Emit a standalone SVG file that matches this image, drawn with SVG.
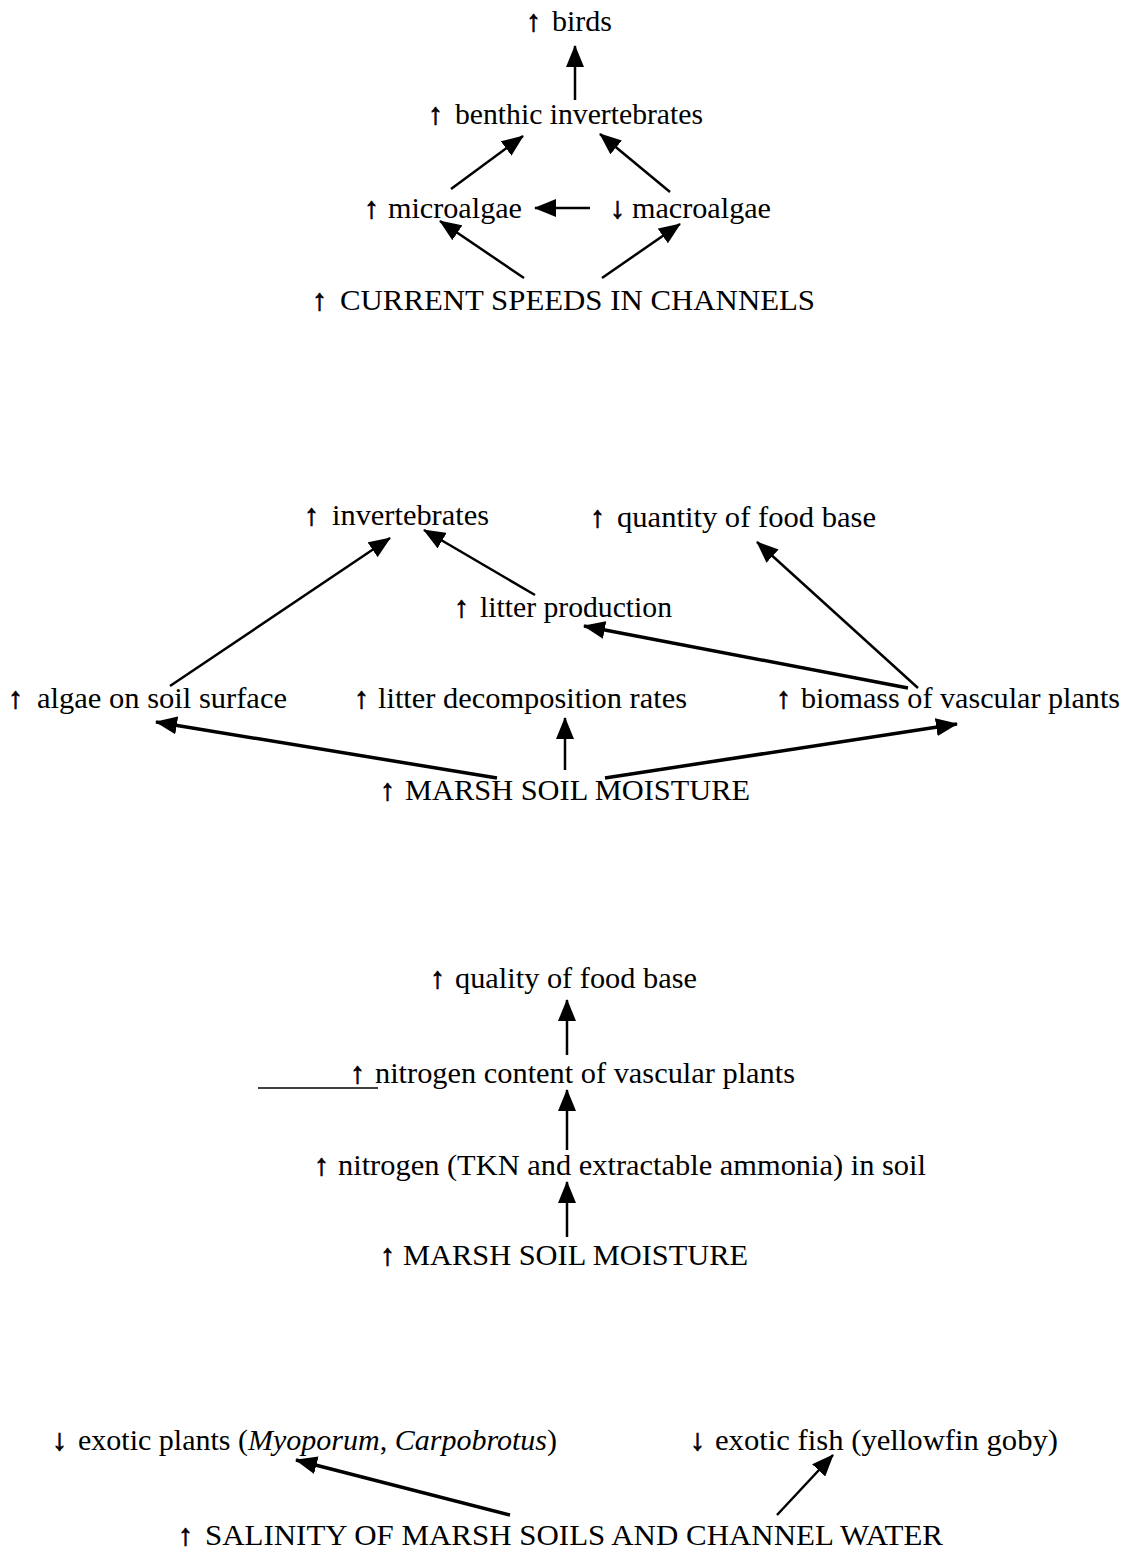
<svg xmlns="http://www.w3.org/2000/svg" width="1128" height="1553" viewBox="0 0 1128 1553">
<style>
text{font-family:"Liberation Serif","Times New Roman",serif;font-size:30px;fill:#000}
text.a{font-size:30px;stroke:#000;stroke-width:0.8}
.c line{stroke:#000;stroke-width:2.5;fill:none}
.c line.t{stroke-width:3.5}
.it{font-style:italic}
</style>
<defs>
<marker id="ah" viewBox="0 0 22 18" markerWidth="22" markerHeight="18" refX="21" refY="9" orient="auto" markerUnits="userSpaceOnUse">
<path d="M0,0 L22,9 L0,18 z" fill="#000"/>
</marker>
</defs>
<rect width="1128" height="1553" fill="#fff"/>
<g id="n-birds"><text class="a" x="526" y="31">↑</text><text x="552" y="31" textLength="60" lengthAdjust="spacingAndGlyphs">birds</text></g>
<g id="n-benthic"><text class="a" x="428" y="124">↑</text><text x="455" y="124" textLength="248" lengthAdjust="spacingAndGlyphs">benthic invertebrates</text></g>
<g id="n-microalgae"><text class="a" x="364" y="218">↑</text><text x="388" y="218" textLength="134" lengthAdjust="spacingAndGlyphs">microalgae</text></g>
<g id="n-macroalgae"><text class="a" x="610" y="218">↓</text><text x="632" y="218" textLength="139" lengthAdjust="spacingAndGlyphs">macroalgae</text></g>
<g id="n-current"><text class="a" x="312" y="310">↑</text><text x="340" y="310" textLength="475" lengthAdjust="spacingAndGlyphs">CURRENT SPEEDS IN CHANNELS</text></g>
<g id="n-invertebrates"><text class="a" x="304" y="525">↑</text><text x="332" y="525" textLength="157" lengthAdjust="spacingAndGlyphs">invertebrates</text></g>
<g id="n-quantity"><text class="a" x="590" y="527">↑</text><text x="617" y="527" textLength="259" lengthAdjust="spacingAndGlyphs">quantity of food base</text></g>
<g id="n-litterprod"><text class="a" x="454" y="617">↑</text><text x="480" y="617" textLength="192" lengthAdjust="spacingAndGlyphs">litter production</text></g>
<g id="n-algae"><text class="a" x="8" y="708">↑</text><text x="37" y="708" textLength="250" lengthAdjust="spacingAndGlyphs">algae on soil surface</text></g>
<g id="n-litterdec"><text class="a" x="354" y="708">↑</text><text x="378" y="708" textLength="309" lengthAdjust="spacingAndGlyphs">litter decomposition rates</text></g>
<g id="n-biomass"><text class="a" x="776" y="708">↑</text><text x="801" y="708" textLength="319" lengthAdjust="spacingAndGlyphs">biomass of vascular plants</text></g>
<g id="n-moisture1"><text class="a" x="380" y="800">↑</text><text x="405" y="800" textLength="345" lengthAdjust="spacingAndGlyphs">MARSH SOIL MOISTURE</text></g>
<g id="n-quality"><text class="a" x="430" y="988">↑</text><text x="455" y="988" textLength="242" lengthAdjust="spacingAndGlyphs">quality of food base</text></g>
<g id="n-nitrogencontent"><text class="a" x="350" y="1083">↑</text><text x="375" y="1083" textLength="420" lengthAdjust="spacingAndGlyphs">nitrogen content of vascular plants</text></g>
<g id="n-nitrogensoil"><text class="a" x="314" y="1175">↑</text><text x="338" y="1175" textLength="588" lengthAdjust="spacingAndGlyphs">nitrogen (TKN and extractable ammonia) in soil</text></g>
<g id="n-moisture2"><text class="a" x="380" y="1265">↑</text><text x="403" y="1265" textLength="345" lengthAdjust="spacingAndGlyphs">MARSH SOIL MOISTURE</text></g>
<g id="n-exoticplants"><text class="a" x="52" y="1450">↓</text><text x="78" y="1450" textLength="479" lengthAdjust="spacingAndGlyphs">exotic plants (<tspan class="it">Myoporum</tspan>, <tspan class="it">Carpobrotus</tspan>)</text></g>
<g id="n-exoticfish"><text class="a" x="690" y="1450">↓</text><text x="715" y="1450" textLength="343" lengthAdjust="spacingAndGlyphs">exotic fish (yellowfin goby)</text></g>
<g id="n-salinity"><text class="a" x="178" y="1545">↑</text><text x="205" y="1545" textLength="738" lengthAdjust="spacingAndGlyphs">SALINITY OF MARSH SOILS AND CHANNEL WATER</text></g>
<g class="c" id="connectors">
<line x1="575" y1="100" x2="575" y2="46" marker-end="url(#ah)"/>
<line x1="451" y1="189" x2="523" y2="136" marker-end="url(#ah)"/>
<line x1="670" y1="192" x2="600" y2="134" marker-end="url(#ah)"/>
<line x1="590" y1="208" x2="535" y2="208" marker-end="url(#ah)"/>
<line x1="524" y1="278" x2="440" y2="221" marker-end="url(#ah)"/>
<line x1="602" y1="278" x2="680" y2="224" marker-end="url(#ah)"/>
<line x1="170" y1="686" x2="390" y2="538" marker-end="url(#ah)"/>
<line x1="535" y1="595" x2="424" y2="530" marker-end="url(#ah)"/>
<line class="t" x1="908" y1="688" x2="584" y2="626" marker-end="url(#ah)"/>
<line x1="918" y1="688" x2="757" y2="542" marker-end="url(#ah)"/>
<line class="t" x1="497" y1="778" x2="156" y2="722" marker-end="url(#ah)"/>
<line x1="565" y1="770" x2="565" y2="718" marker-end="url(#ah)"/>
<line class="t" x1="605" y1="778" x2="957" y2="724" marker-end="url(#ah)"/>
<line x1="567" y1="1055" x2="567" y2="1000" marker-end="url(#ah)"/>
<line x1="567" y1="1150" x2="567" y2="1090" marker-end="url(#ah)"/>
<line x1="567" y1="1237" x2="567" y2="1182" marker-end="url(#ah)"/>
<line class="t" x1="510" y1="1515" x2="296" y2="1460" marker-end="url(#ah)"/>
<line x1="777" y1="1515" x2="833" y2="1455" marker-end="url(#ah)"/>
<line x1="258" y1="1088" x2="378" y2="1088" style="stroke-width:1.5"/>
</g>
</svg>
